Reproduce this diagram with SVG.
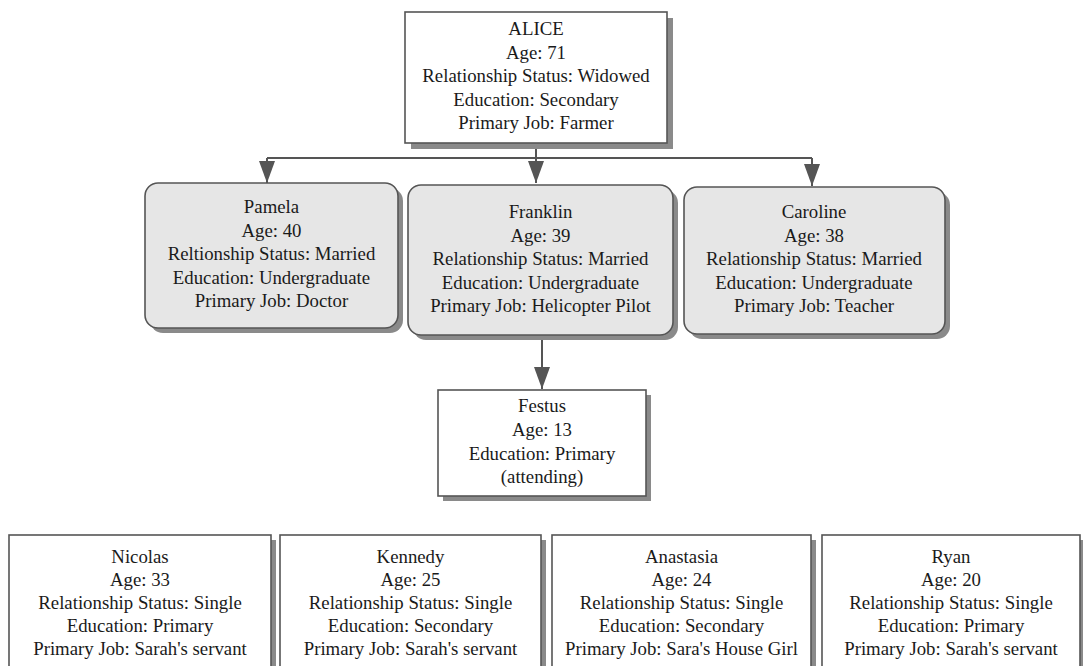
<svg xmlns="http://www.w3.org/2000/svg" width="1083" height="666" viewBox="0 0 1083 666">
  <defs>
    <marker id="arrow" viewBox="0 0 22 16" refX="22" refY="8" markerWidth="22" markerHeight="16" markerUnits="userSpaceOnUse" orient="auto">
      <path d="M0,0 L22,8 L0,16 Z" fill="#555"/>
    </marker>
    <style>
      .shadow { fill: #8a8a8a; }
      .box { fill: #ffffff; stroke: #555555; stroke-width: 1.6; }
      .rbox { fill: #e6e6e6; stroke: #555555; stroke-width: 1.6; }
      .wire { fill: none; stroke: #555555; stroke-width: 2; }
      text { font-family: "Liberation Serif", "Times New Roman", serif; font-size: 18.8px; fill: #1a1a1a; text-anchor: middle; }
    </style>
  </defs>
  <rect width="1083" height="666" fill="#ffffff"/>

  <g id="connectors">
    <path class="wire" d="M536,143 V183" marker-end="url(#arrow)"/>
    <path class="wire" d="M267,158 H812"/>
    <path class="wire" d="M267,158 V183" marker-end="url(#arrow)"/>
    <path class="wire" d="M812,158 V186" marker-end="url(#arrow)"/>
    <path class="wire" d="M542,335 V389" marker-end="url(#arrow)"/>
  </g>

  <g id="alice">
    <rect class="shadow" x="411" y="18" width="262" height="131"/>
    <rect class="box" x="405" y="12" width="262" height="131"/>
    <text x="536" y="35">ALICE</text>
    <text x="536" y="58.5">Age: 71</text>
    <text x="536" y="82">Relationship Status: Widowed</text>
    <text x="536" y="105.5">Education: Secondary</text>
    <text x="536" y="129">Primary Job: Farmer</text>
  </g>

  <g id="pamela">
    <rect class="shadow" x="150" y="188" width="253" height="145" rx="13"/>
    <rect class="rbox" x="145" y="183" width="253" height="145" rx="13"/>
    <text x="271.5" y="213">Pamela</text>
    <text x="271.5" y="236.5">Age: 40</text>
    <text x="271.5" y="260">Reltionship Status: Married</text>
    <text x="271.5" y="283.5">Education: Undergraduate</text>
    <text x="271.5" y="307">Primary Job: Doctor</text>
  </g>

  <g id="franklin">
    <rect class="shadow" x="413" y="190" width="265" height="150" rx="13"/>
    <rect class="rbox" x="408" y="185" width="265" height="150" rx="13"/>
    <text x="540.5" y="218">Franklin</text>
    <text x="540.5" y="241.5">Age: 39</text>
    <text x="540.5" y="265">Relationship Status: Married</text>
    <text x="540.5" y="288.5">Education: Undergraduate</text>
    <text x="540.5" y="312">Primary Job: Helicopter Pilot</text>
  </g>

  <g id="caroline">
    <rect class="shadow" x="689" y="192" width="261" height="147" rx="13"/>
    <rect class="rbox" x="684" y="187" width="261" height="147" rx="13"/>
    <text x="814" y="218">Caroline</text>
    <text x="814" y="241.5">Age: 38</text>
    <text x="814" y="265">Relationship Status: Married</text>
    <text x="814" y="288.5">Education: Undergraduate</text>
    <text x="814" y="312">Primary Job: Teacher</text>
  </g>

  <g id="festus">
    <rect class="shadow" x="443" y="395" width="208" height="106"/>
    <rect class="box" x="438" y="390" width="208" height="106"/>
    <text x="542" y="412">Festus</text>
    <text x="542" y="436">Age: 13</text>
    <text x="542" y="460">Education: Primary</text>
    <text x="542" y="483">(attending)</text>
  </g>

  <g id="nicolas">
    <rect class="shadow" x="14" y="540" width="262" height="140"/>
    <rect class="box" x="9" y="535" width="262" height="140"/>
    <text x="140" y="563">Nicolas</text>
    <text x="140" y="586">Age: 33</text>
    <text x="140" y="609">Relationship Status: Single</text>
    <text x="140" y="632">Education: Primary</text>
    <text x="140" y="655">Primary Job: Sarah's servant</text>
  </g>

  <g id="kennedy">
    <rect class="shadow" x="285" y="540" width="261" height="140"/>
    <rect class="box" x="280" y="535" width="261" height="140"/>
    <text x="410.5" y="563">Kennedy</text>
    <text x="410.5" y="586">Age: 25</text>
    <text x="410.5" y="609">Relationship Status: Single</text>
    <text x="410.5" y="632">Education: Secondary</text>
    <text x="410.5" y="655">Primary Job: Sarah's servant</text>
  </g>

  <g id="anastasia">
    <rect class="shadow" x="557" y="540" width="259" height="140"/>
    <rect class="box" x="552" y="535" width="259" height="140"/>
    <text x="681.5" y="563">Anastasia</text>
    <text x="681.5" y="586">Age: 24</text>
    <text x="681.5" y="609">Relationship Status: Single</text>
    <text x="681.5" y="632">Education: Secondary</text>
    <text x="681.5" y="655">Primary Job: Sara's House Girl</text>
  </g>

  <g id="ryan">
    <rect class="shadow" x="827" y="540" width="258" height="140"/>
    <rect class="box" x="822" y="535" width="258" height="140"/>
    <text x="951" y="563">Ryan</text>
    <text x="951" y="586">Age: 20</text>
    <text x="951" y="609">Relationship Status: Single</text>
    <text x="951" y="632">Education: Primary</text>
    <text x="951" y="655">Primary Job: Sarah's servant</text>
  </g>
</svg>
